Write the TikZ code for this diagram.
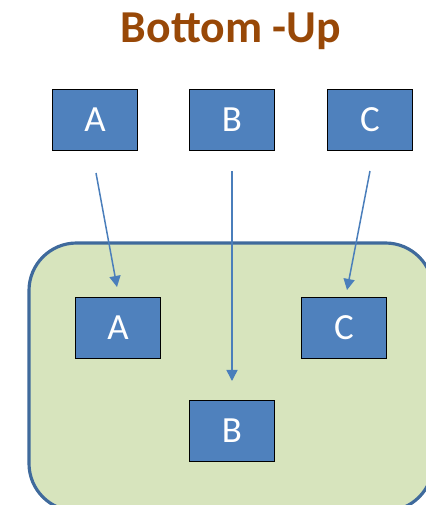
\documentclass[tikz,border=0pt]{standalone}
\usepackage{fontspec}
\setmainfont{Carlito}
\usetikzlibrary{arrows.meta}

\definecolor{titlebrown}{HTML}{984807}
\definecolor{boxblue}{HTML}{4F81BD}
\definecolor{linkblue}{HTML}{4A7EBB}
\definecolor{framblue}{HTML}{3F6A9C}
\definecolor{areagreen}{HTML}{D7E4BD}

\tikzset{
	module/.style={draw=black, line width=1.1pt, fill=boxblue, text=white,
		minimum width=1.7cm, minimum height=1.22cm, inner sep=0pt,
		font=\fontsize{21}{24}\selectfont},
	link/.style={linkblue, line width=0.85pt,
		-{Triangle[length=6.3pt, width=6.3pt]}},
}

\begin{document}
\begin{tikzpicture}[x=0.02cm, y=-0.02cm]

\useasboundingbox (0,0) rectangle (426,505);
\clip (0,0) rectangle (426,505);

%% Ueberschrift
\node[text=titlebrown, font=\bfseries\fontsize{26}{30}\selectfont] (title) at (231,31) {Bottom -Up};

%% Einzelne Module
\node[module] (topA) at (95,120) {A};
\node[module] (topB) at (232,120) {B};
\node[module] (topC) at (370,120) {C};

%% Gesamtsystem
\draw[framblue, line width=1.8pt, fill=areagreen, rounded corners=0.95cm]
	(29,243) rectangle (433,511);

\node[module] (subA) at (118,328) {A};
\node[module] (subC) at (344,328) {C};
\node[module] (subB) at (232,431) {B};

%% Verbindungen
\coordinate (fromA) at (96,173);
\coordinate (toA) at (117,287);
\coordinate (fromB) at (232,171);
\coordinate (toB) at (232,381);
\coordinate (fromC) at (370,171);
\coordinate (toC) at (347,290);

\draw[link] (fromA) -- (toA);
\draw[link] (fromB) -- (toB);
\draw[link] (fromC) -- (toC);

\end{tikzpicture}
\end{document}
